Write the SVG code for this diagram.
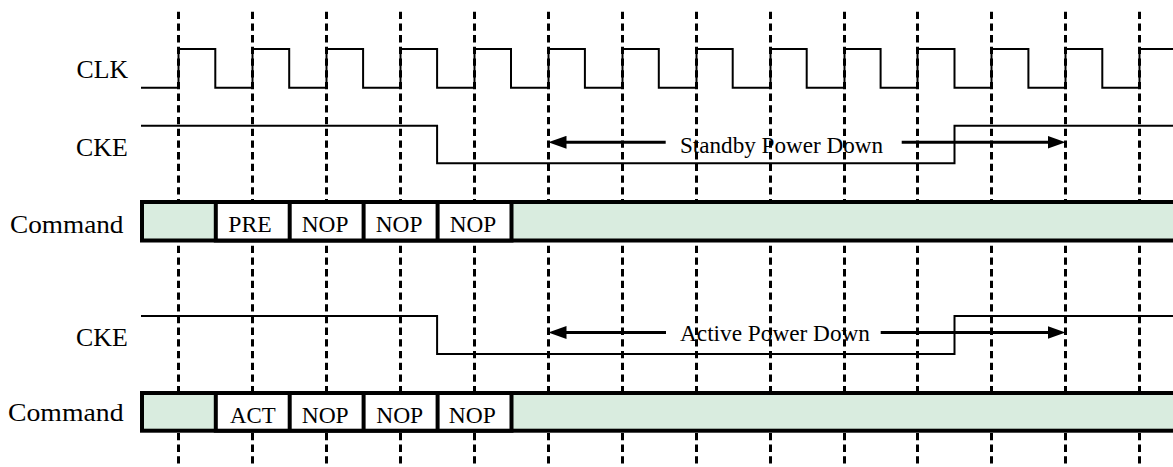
<svg xmlns="http://www.w3.org/2000/svg" width="1173" height="467" viewBox="0 0 1173 467">
<style>
.grid{stroke:#000;stroke-width:3;stroke-dasharray:7.3 4.4;fill:none}
.sig{stroke:#000;stroke-width:2;fill:none}
.lbl{font-family:"Liberation Serif","Times New Roman",serif;font-size:26px;fill:#000}
.cmd{font-family:"Liberation Serif","Times New Roman",serif;font-size:23px;fill:#000}
.atx{font-family:"Liberation Serif","Times New Roman",serif;font-size:24px;fill:#000}
.bar{fill:#d9ecdf;stroke:#000;stroke-width:4}
.box{fill:#fff;stroke:#000;stroke-width:4}
.arr{stroke:#000;stroke-width:3;fill:none;marker-end:url(#ah)}
</style>
<defs>
<marker id="ah" markerUnits="userSpaceOnUse" viewBox="0 0 18 13" markerWidth="18" markerHeight="13" refX="10" refY="6.5" orient="auto">
<path d="M0,0 L18,6.5 L0,13 z" fill="#000"/>
</marker>
</defs>
<rect width="1173" height="467" fill="#fff"/>
<g id="grid">
<path class="grid" d="M178.5 11.7V465M252.5 11.7V465M326.5 11.7V465M400.5 11.7V465M474.5 11.7V465M548.5 11.7V465M622.5 11.7V465M696.5 11.7V465M770.5 11.7V465M844.5 11.7V465M917.5 11.7V465M991.5 11.7V465M1065.5 11.7V465M1139.5 11.7V465"/>
</g>
<g id="labels">
<text class="lbl" x="76.5" y="78.3" textLength="51.5" lengthAdjust="spacingAndGlyphs">CLK</text>
<text class="lbl" x="76" y="155.7" textLength="51.7" lengthAdjust="spacingAndGlyphs">CKE</text>
<text class="lbl" x="10" y="232.5" textLength="113.5" lengthAdjust="spacingAndGlyphs">Command</text>
<text class="lbl" x="76" y="345.7" textLength="51.7" lengthAdjust="spacingAndGlyphs">CKE</text>
<text class="lbl" x="8" y="421" textLength="115.5" lengthAdjust="spacingAndGlyphs">Command</text>
</g>
<g id="clk">
<path class="sig" d="M141 87.7H178.5V49H215.3V87.7H252.5V49H289.2V87.7H326.5V49H363.1V87.7H400.5V49H437.1V87.7H474.5V49H511V87.7H548.5V49H584.9V87.7H622.5V49H658.8V87.7H696.5V49H732.7V87.7H770.5V49H806.7V87.7H844.5V49H880.6V87.7H917.5V49H954.5V87.7H991.5V49H1028.4V87.7H1065.5V49H1102.3V87.7H1139.5V49H1174"/>
</g>
<g id="cke1">
<path class="sig" d="M141 125.7H437.1V163.3H954.5V125.7H1174"/>
</g>
<g id="cke2">
<path class="sig" d="M141 316H437.1V354H954.5V316H1174"/>
</g>
<g id="command1">
<rect class="bar" x="142" y="202" width="1040" height="38.5"/>
<rect class="box" x="215.8" y="202" width="295.7" height="38.5"/>
<path stroke="#000" stroke-width="4" d="M289.7 202V240.5M363.6 202V240.5M437.6 202V240.5"/>
<text class="cmd" x="228.3" y="232" textLength="43.4" lengthAdjust="spacingAndGlyphs">PRE</text>
<text class="cmd" x="301.7" y="232" textLength="46.7" lengthAdjust="spacingAndGlyphs">NOP</text>
<text class="cmd" x="375.7" y="232" textLength="46.7" lengthAdjust="spacingAndGlyphs">NOP</text>
<text class="cmd" x="449.7" y="232" textLength="46.5" lengthAdjust="spacingAndGlyphs">NOP</text>
</g>
<g id="command2">
<rect class="bar" x="142" y="393" width="1040" height="37.7"/>
<rect class="box" x="215.8" y="393" width="295.7" height="37.7"/>
<path stroke="#000" stroke-width="4" d="M289.7 393V430.7M363.6 393V430.7M437.6 393V430.7"/>
<text class="cmd" x="230" y="423" textLength="45.7" lengthAdjust="spacingAndGlyphs">ACT</text>
<text class="cmd" x="301.7" y="423" textLength="47" lengthAdjust="spacingAndGlyphs">NOP</text>
<text class="cmd" x="376.2" y="423" textLength="47" lengthAdjust="spacingAndGlyphs">NOP</text>
<text class="cmd" x="448.8" y="423" textLength="47" lengthAdjust="spacingAndGlyphs">NOP</text>
</g>
<g id="connectors">
<path class="arr" d="M665.7 142.3H556.5"/>
<path class="arr" d="M901.7 142.3H1057.5"/>
<path class="arr" d="M666 332.5H556.5"/>
<path class="arr" d="M880.7 332.5H1057.5"/>
<text class="atx" x="680" y="152.7" textLength="203" lengthAdjust="spacingAndGlyphs">Standby Power Down</text>
<text class="atx" x="680" y="341" textLength="190" lengthAdjust="spacingAndGlyphs">Active Power Down</text>
</g>
</svg>
